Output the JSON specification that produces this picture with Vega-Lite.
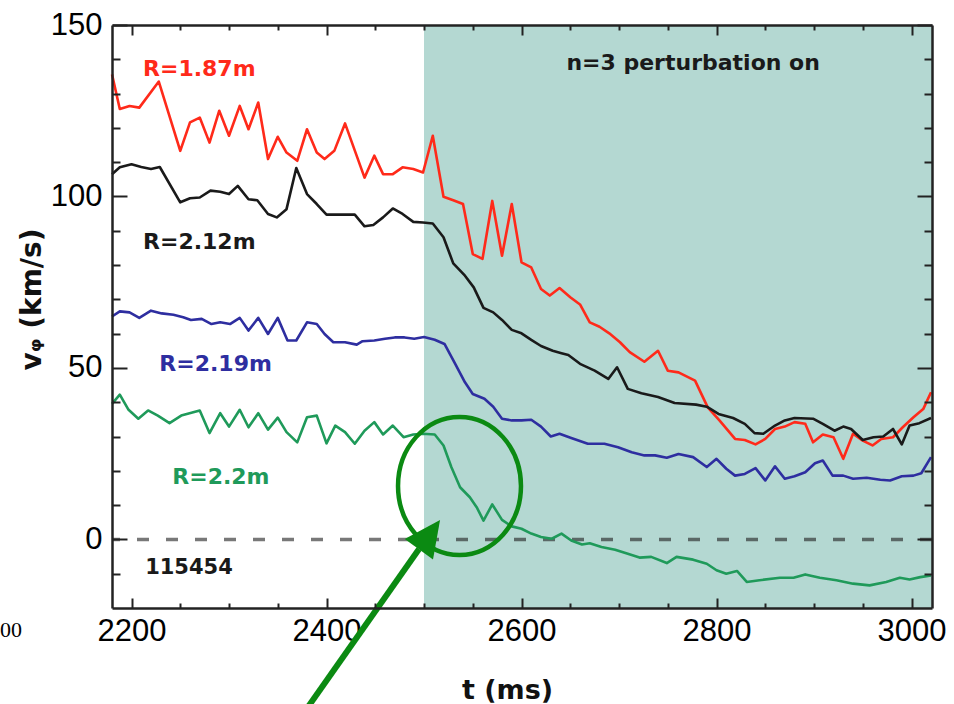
{
 "$schema": "https://vega.github.io/schema/vega-lite/v6.json",
 "width": 820,
 "height": 583,
 "autosize": {"type": "none"},
 "padding": {"left": 112, "top": 25, "right": 22, "bottom": 96},
 "background": "white",
 "config": {"view": {"stroke": null}},
 "datasets": {
  "shade": [{"t0": 2500, "t1": 3021, "v0": -20, "v1": 150}],
  "series": [
   {"t":2180,"v":135.6,"R":"1.87"},{"t":2188,"v":125.5,"R":"1.87"},{"t":2198,"v":126.4,"R":"1.87"},{"t":2208,"v":125.9,"R":"1.87"},{"t":2228,"v":133.5,"R":"1.87"},{"t":2250,"v":113.3,"R":"1.87"},{"t":2260,"v":121.6,"R":"1.87"},{"t":2270,"v":123.0,"R":"1.87"},{"t":2280,"v":115.7,"R":"1.87"},{"t":2290,"v":125.0,"R":"1.87"},{"t":2300,"v":117.7,"R":"1.87"},{"t":2311,"v":126.4,"R":"1.87"},{"t":2320,"v":119.6,"R":"1.87"},{"t":2330,"v":127.4,"R":"1.87"},{"t":2340,"v":110.9,"R":"1.87"},{"t":2350,"v":117.4,"R":"1.87"},{"t":2359,"v":112.8,"R":"1.87"},{"t":2370,"v":110.4,"R":"1.87"},{"t":2380,"v":119.6,"R":"1.87"},{"t":2390,"v":112.8,"R":"1.87"},{"t":2398,"v":110.9,"R":"1.87"},{"t":2408,"v":113.3,"R":"1.87"},{"t":2419,"v":121.3,"R":"1.87"},{"t":2439,"v":105.5,"R":"1.87"},{"t":2449,"v":111.9,"R":"1.87"},{"t":2458,"v":106.5,"R":"1.87"},{"t":2468,"v":106.5,"R":"1.87"},{"t":2478,"v":108.5,"R":"1.87"},{"t":2489,"v":108.0,"R":"1.87"},{"t":2499,"v":107.0,"R":"1.87"},{"t":2509,"v":117.7,"R":"1.87"},{"t":2520,"v":99.9,"R":"1.87"},{"t":2530,"v":98.9,"R":"1.87"},{"t":2540,"v":97.8,"R":"1.87"},{"t":2550,"v":83.2,"R":"1.87"},{"t":2560,"v":81.8,"R":"1.87"},{"t":2570,"v":98.7,"R":"1.87"},{"t":2580,"v":82.7,"R":"1.87"},{"t":2590,"v":97.8,"R":"1.87"},{"t":2600,"v":80.8,"R":"1.87"},{"t":2610,"v":79.3,"R":"1.87"},{"t":2620,"v":73.0,"R":"1.87"},{"t":2629,"v":71.1,"R":"1.87"},{"t":2639,"v":73.3,"R":"1.87"},{"t":2650,"v":70.6,"R":"1.87"},{"t":2660,"v":68.5,"R":"1.87"},{"t":2670,"v":63.3,"R":"1.87"},{"t":2680,"v":62.0,"R":"1.87"},{"t":2690,"v":60.1,"R":"1.87"},{"t":2701,"v":57.5,"R":"1.87"},{"t":2711,"v":54.6,"R":"1.87"},{"t":2726,"v":51.8,"R":"1.87"},{"t":2740,"v":55.0,"R":"1.87"},{"t":2750,"v":49.2,"R":"1.87"},{"t":2761,"v":48.7,"R":"1.87"},{"t":2778,"v":46.3,"R":"1.87"},{"t":2791,"v":38.5,"R":"1.87"},{"t":2803,"v":34.7,"R":"1.87"},{"t":2819,"v":29.3,"R":"1.87"},{"t":2829,"v":29.0,"R":"1.87"},{"t":2840,"v":27.7,"R":"1.87"},{"t":2850,"v":29.3,"R":"1.87"},{"t":2860,"v":32.2,"R":"1.87"},{"t":2870,"v":32.9,"R":"1.87"},{"t":2880,"v":34.2,"R":"1.87"},{"t":2891,"v":33.7,"R":"1.87"},{"t":2899,"v":28.3,"R":"1.87"},{"t":2909,"v":30.6,"R":"1.87"},{"t":2920,"v":29.8,"R":"1.87"},{"t":2930,"v":23.5,"R":"1.87"},{"t":2940,"v":30.8,"R":"1.87"},{"t":2950,"v":28.8,"R":"1.87"},{"t":2960,"v":27.4,"R":"1.87"},{"t":2969,"v":29.3,"R":"1.87"},{"t":2981,"v":29.8,"R":"1.87"},{"t":2991,"v":32.7,"R":"1.87"},{"t":3002,"v":35.6,"R":"1.87"},{"t":3012,"v":38.0,"R":"1.87"},{"t":3020,"v":42.9,"R":"1.87"},
   {"t":2180,"v":106.5,"R":"2.12"},{"t":2188,"v":108.5,"R":"2.12"},{"t":2200,"v":109.4,"R":"2.12"},{"t":2210,"v":108.6,"R":"2.12"},{"t":2220,"v":108.0,"R":"2.12"},{"t":2229,"v":108.6,"R":"2.12"},{"t":2250,"v":98.3,"R":"2.12"},{"t":2260,"v":99.5,"R":"2.12"},{"t":2270,"v":99.7,"R":"2.12"},{"t":2281,"v":101.7,"R":"2.12"},{"t":2291,"v":101.4,"R":"2.12"},{"t":2300,"v":100.7,"R":"2.12"},{"t":2309,"v":103.1,"R":"2.12"},{"t":2320,"v":99.2,"R":"2.12"},{"t":2329,"v":98.9,"R":"2.12"},{"t":2340,"v":94.9,"R":"2.12"},{"t":2349,"v":93.9,"R":"2.12"},{"t":2359,"v":96.3,"R":"2.12"},{"t":2369,"v":108.3,"R":"2.12"},{"t":2380,"v":100.7,"R":"2.12"},{"t":2390,"v":97.8,"R":"2.12"},{"t":2400,"v":94.7,"R":"2.12"},{"t":2412,"v":94.7,"R":"2.12"},{"t":2429,"v":94.7,"R":"2.12"},{"t":2439,"v":91.3,"R":"2.12"},{"t":2448,"v":91.7,"R":"2.12"},{"t":2458,"v":93.9,"R":"2.12"},{"t":2468,"v":96.5,"R":"2.12"},{"t":2478,"v":94.9,"R":"2.12"},{"t":2489,"v":92.6,"R":"2.12"},{"t":2499,"v":92.4,"R":"2.12"},{"t":2509,"v":92.1,"R":"2.12"},{"t":2520,"v":88.1,"R":"2.12"},{"t":2530,"v":80.5,"R":"2.12"},{"t":2542,"v":76.9,"R":"2.12"},{"t":2551,"v":73.5,"R":"2.12"},{"t":2561,"v":67.5,"R":"2.12"},{"t":2571,"v":66.2,"R":"2.12"},{"t":2580,"v":64.0,"R":"2.12"},{"t":2590,"v":61.1,"R":"2.12"},{"t":2600,"v":60.1,"R":"2.12"},{"t":2610,"v":58.2,"R":"2.12"},{"t":2620,"v":56.4,"R":"2.12"},{"t":2632,"v":55.0,"R":"2.12"},{"t":2641,"v":54.3,"R":"2.12"},{"t":2648,"v":53.8,"R":"2.12"},{"t":2660,"v":51.2,"R":"2.12"},{"t":2675,"v":49.2,"R":"2.12"},{"t":2689,"v":46.8,"R":"2.12"},{"t":2698,"v":50.2,"R":"2.12"},{"t":2709,"v":43.9,"R":"2.12"},{"t":2723,"v":42.6,"R":"2.12"},{"t":2740,"v":41.5,"R":"2.12"},{"t":2757,"v":39.8,"R":"2.12"},{"t":2779,"v":39.3,"R":"2.12"},{"t":2790,"v":38.7,"R":"2.12"},{"t":2802,"v":36.6,"R":"2.12"},{"t":2817,"v":35.4,"R":"2.12"},{"t":2829,"v":33.7,"R":"2.12"},{"t":2839,"v":31.0,"R":"2.12"},{"t":2848,"v":30.8,"R":"2.12"},{"t":2860,"v":33.2,"R":"2.12"},{"t":2870,"v":34.7,"R":"2.12"},{"t":2880,"v":35.4,"R":"2.12"},{"t":2899,"v":35.2,"R":"2.12"},{"t":2909,"v":33.7,"R":"2.12"},{"t":2921,"v":31.7,"R":"2.12"},{"t":2930,"v":32.9,"R":"2.12"},{"t":2938,"v":32.2,"R":"2.12"},{"t":2950,"v":29.0,"R":"2.12"},{"t":2961,"v":29.8,"R":"2.12"},{"t":2971,"v":30.0,"R":"2.12"},{"t":2981,"v":32.2,"R":"2.12"},{"t":2990,"v":27.7,"R":"2.12"},{"t":2998,"v":33.2,"R":"2.12"},{"t":3008,"v":33.9,"R":"2.12"},{"t":3020,"v":35.4,"R":"2.12"},
   {"t":2180,"v":65.0,"R":"2.19"},{"t":2188,"v":66.5,"R":"2.19"},{"t":2198,"v":66.2,"R":"2.19"},{"t":2208,"v":64.6,"R":"2.19"},{"t":2220,"v":66.7,"R":"2.19"},{"t":2231,"v":65.9,"R":"2.19"},{"t":2243,"v":65.5,"R":"2.19"},{"t":2253,"v":64.8,"R":"2.19"},{"t":2261,"v":64.0,"R":"2.19"},{"t":2272,"v":64.3,"R":"2.19"},{"t":2282,"v":62.8,"R":"2.19"},{"t":2291,"v":63.3,"R":"2.19"},{"t":2301,"v":62.8,"R":"2.19"},{"t":2311,"v":64.6,"R":"2.19"},{"t":2320,"v":60.9,"R":"2.19"},{"t":2330,"v":64.6,"R":"2.19"},{"t":2340,"v":59.9,"R":"2.19"},{"t":2350,"v":64.6,"R":"2.19"},{"t":2360,"v":58.0,"R":"2.19"},{"t":2369,"v":58.0,"R":"2.19"},{"t":2380,"v":63.3,"R":"2.19"},{"t":2390,"v":62.8,"R":"2.19"},{"t":2398,"v":59.9,"R":"2.19"},{"t":2407,"v":57.5,"R":"2.19"},{"t":2419,"v":57.5,"R":"2.19"},{"t":2431,"v":56.8,"R":"2.19"},{"t":2437,"v":57.8,"R":"2.19"},{"t":2449,"v":58.0,"R":"2.19"},{"t":2460,"v":58.5,"R":"2.19"},{"t":2470,"v":58.9,"R":"2.19"},{"t":2480,"v":58.9,"R":"2.19"},{"t":2490,"v":58.5,"R":"2.19"},{"t":2500,"v":59.0,"R":"2.19"},{"t":2511,"v":58.2,"R":"2.19"},{"t":2521,"v":57.0,"R":"2.19"},{"t":2532,"v":51.2,"R":"2.19"},{"t":2542,"v":45.8,"R":"2.19"},{"t":2550,"v":42.4,"R":"2.19"},{"t":2562,"v":41.0,"R":"2.19"},{"t":2571,"v":38.7,"R":"2.19"},{"t":2580,"v":35.2,"R":"2.19"},{"t":2590,"v":34.7,"R":"2.19"},{"t":2600,"v":34.7,"R":"2.19"},{"t":2610,"v":34.9,"R":"2.19"},{"t":2620,"v":32.9,"R":"2.19"},{"t":2630,"v":30.0,"R":"2.19"},{"t":2639,"v":30.8,"R":"2.19"},{"t":2651,"v":29.6,"R":"2.19"},{"t":2668,"v":27.9,"R":"2.19"},{"t":2685,"v":27.9,"R":"2.19"},{"t":2699,"v":26.9,"R":"2.19"},{"t":2713,"v":25.4,"R":"2.19"},{"t":2726,"v":24.5,"R":"2.19"},{"t":2737,"v":24.5,"R":"2.19"},{"t":2749,"v":23.8,"R":"2.19"},{"t":2761,"v":24.9,"R":"2.19"},{"t":2776,"v":24.0,"R":"2.19"},{"t":2790,"v":21.1,"R":"2.19"},{"t":2800,"v":23.5,"R":"2.19"},{"t":2810,"v":20.6,"R":"2.19"},{"t":2819,"v":18.6,"R":"2.19"},{"t":2829,"v":19.1,"R":"2.19"},{"t":2840,"v":20.8,"R":"2.19"},{"t":2850,"v":17.2,"R":"2.19"},{"t":2860,"v":21.3,"R":"2.19"},{"t":2870,"v":17.7,"R":"2.19"},{"t":2880,"v":18.4,"R":"2.19"},{"t":2891,"v":19.6,"R":"2.19"},{"t":2901,"v":22.2,"R":"2.19"},{"t":2909,"v":23.0,"R":"2.19"},{"t":2919,"v":18.6,"R":"2.19"},{"t":2930,"v":18.6,"R":"2.19"},{"t":2940,"v":17.7,"R":"2.19"},{"t":2954,"v":18.0,"R":"2.19"},{"t":2968,"v":17.4,"R":"2.19"},{"t":2978,"v":17.2,"R":"2.19"},{"t":2990,"v":18.4,"R":"2.19"},{"t":3002,"v":18.6,"R":"2.19"},{"t":3010,"v":19.3,"R":"2.19"},{"t":3020,"v":24.0,"R":"2.19"},
   {"t":2180,"v":39.5,"R":"2.2"},{"t":2188,"v":42.2,"R":"2.2"},{"t":2197,"v":37.8,"R":"2.2"},{"t":2207,"v":35.2,"R":"2.2"},{"t":2217,"v":37.6,"R":"2.2"},{"t":2227,"v":36.1,"R":"2.2"},{"t":2239,"v":33.9,"R":"2.2"},{"t":2251,"v":36.1,"R":"2.2"},{"t":2270,"v":37.6,"R":"2.2"},{"t":2280,"v":31.0,"R":"2.2"},{"t":2291,"v":36.8,"R":"2.2"},{"t":2300,"v":32.9,"R":"2.2"},{"t":2311,"v":37.8,"R":"2.2"},{"t":2320,"v":32.7,"R":"2.2"},{"t":2330,"v":36.8,"R":"2.2"},{"t":2340,"v":32.0,"R":"2.2"},{"t":2350,"v":35.5,"R":"2.2"},{"t":2359,"v":31.3,"R":"2.2"},{"t":2370,"v":28.3,"R":"2.2"},{"t":2380,"v":35.6,"R":"2.2"},{"t":2390,"v":36.1,"R":"2.2"},{"t":2400,"v":28.0,"R":"2.2"},{"t":2409,"v":33.2,"R":"2.2"},{"t":2419,"v":31.3,"R":"2.2"},{"t":2429,"v":27.9,"R":"2.2"},{"t":2439,"v":31.7,"R":"2.2"},{"t":2449,"v":34.2,"R":"2.2"},{"t":2458,"v":30.6,"R":"2.2"},{"t":2468,"v":33.2,"R":"2.2"},{"t":2479,"v":29.8,"R":"2.2"},{"t":2489,"v":30.6,"R":"2.2"},{"t":2499,"v":30.8,"R":"2.2"},{"t":2511,"v":30.6,"R":"2.2"},{"t":2520,"v":27.4,"R":"2.2"},{"t":2528,"v":21.1,"R":"2.2"},{"t":2537,"v":15.2,"R":"2.2"},{"t":2547,"v":12.3,"R":"2.2"},{"t":2554,"v":9.4,"R":"2.2"},{"t":2561,"v":5.5,"R":"2.2"},{"t":2570,"v":10.2,"R":"2.2"},{"t":2580,"v":5.7,"R":"2.2"},{"t":2590,"v":3.8,"R":"2.2"},{"t":2600,"v":3.1,"R":"2.2"},{"t":2610,"v":1.7,"R":"2.2"},{"t":2620,"v":0.7,"R":"2.2"},{"t":2631,"v":0.2,"R":"2.2"},{"t":2641,"v":1.7,"R":"2.2"},{"t":2651,"v":-0.3,"R":"2.2"},{"t":2662,"v":-1.5,"R":"2.2"},{"t":2670,"v":-1.1,"R":"2.2"},{"t":2682,"v":-2.2,"R":"2.2"},{"t":2696,"v":-3.0,"R":"2.2"},{"t":2709,"v":-4.2,"R":"2.2"},{"t":2721,"v":-5.3,"R":"2.2"},{"t":2733,"v":-5.1,"R":"2.2"},{"t":2749,"v":-6.9,"R":"2.2"},{"t":2759,"v":-5.1,"R":"2.2"},{"t":2776,"v":-5.9,"R":"2.2"},{"t":2790,"v":-7.1,"R":"2.2"},{"t":2800,"v":-9.0,"R":"2.2"},{"t":2810,"v":-10.0,"R":"2.2"},{"t":2821,"v":-9.2,"R":"2.2"},{"t":2831,"v":-12.4,"R":"2.2"},{"t":2844,"v":-11.9,"R":"2.2"},{"t":2865,"v":-11.2,"R":"2.2"},{"t":2879,"v":-11.2,"R":"2.2"},{"t":2891,"v":-10.2,"R":"2.2"},{"t":2906,"v":-11.2,"R":"2.2"},{"t":2923,"v":-11.9,"R":"2.2"},{"t":2940,"v":-12.9,"R":"2.2"},{"t":2957,"v":-13.4,"R":"2.2"},{"t":2974,"v":-12.4,"R":"2.2"},{"t":2988,"v":-11.2,"R":"2.2"},{"t":2998,"v":-11.7,"R":"2.2"},{"t":3009,"v":-11.0,"R":"2.2"},{"t":3020,"v":-10.5,"R":"2.2"}
  ],
  "labels": [
   {"t": 2211.8, "v": 137.2, "label": "R=1.87m", "R": "1.87"},
   {"t": 2211.8, "v": 86.8, "label": "R=2.12m", "R": "2.12"},
   {"t": 2228.5, "v": 51.2, "label": "R=2.19m", "R": "2.19"},
   {"t": 2241.8, "v": 18.2, "label": "R=2.2m", "R": "2.2"}
  ],
  "shot": [{"t": 2214, "v": -8.3, "label": "115454"}],
  "phase": [{"t": 2776, "v": 138.9, "label": "n=3 perturbation on"}],
  "stray": [{"t": 2065.1, "v": -26.4, "label": "00"}],
  "ellipse": [{"t": 2536.4, "v": 15.6}],
  "shaft": [{"t": 2371.5, "v": -52.7, "t2": 2494.9, "v2": -2.8}],
  "head": [{"t": 2505.6, "v": 1.4}]
 },
 "resolve": {"axis": {"x": "independent", "y": "independent"}},
 "layer": [
  {
   "data": {"name": "shade"},
   "mark": {"type": "rect", "color": "#b4d8d2"},
   "encoding": {
    "x": {"field": "t0", "type": "quantitative",
     "scale": {"domain": [2180, 3021], "nice": false, "zero": false},
     "axis": {"orient": "bottom", "values": [2200, 2400, 2600, 2800, 3000], "format": "d",
      "ticks": false, "domain": false, "grid": false, "labelFlush": false,
      "labelFont": "Liberation Sans", "labelFontSize": 31, "labelColor": "#000", "labelPadding": 8,
      "title": "t (ms)", "titleFont": "DejaVu Sans", "titleFontWeight": "bold", "titleFontSize": 27,
      "titleColor": "#111", "titleX": 395, "titleY": 90, "titleBaseline": "alphabetic", "titleAlign": "center", "zindex": 0}},
    "x2": {"field": "t1"},
    "y": {"field": "v0", "type": "quantitative",
     "scale": {"domain": [-20, 150], "nice": false, "zero": false},
     "axis": {"orient": "left", "values": [0, 50, 100, 150], "format": "d",
      "ticks": false, "domain": false, "grid": false, "labelFlush": false,
      "labelFont": "Liberation Sans", "labelFontSize": 31, "labelColor": "#000", "labelPadding": 10,
      "title": "vᵩ (km/s)", "titleFont": "DejaVu Sans", "titleFontWeight": "bold", "titleFontSize": 28,
      "titleColor": "#111", "titleX": -80, "titleY": 274, "titleAngle": -90, "titleBaseline": "middle", "titleAlign": "center", "zindex": 0}},
    "y2": {"field": "v1"}
   }
  },
  {
   "data": {"values": [{}]},
   "mark": {"type": "rule", "color": "#1e1e1e", "opacity": 0.6, "strokeWidth": 3.5, "strokeDash": [12, 17]},
   "encoding": {"y": {"datum": 0, "type": "quantitative", "axis": null}}
  },
  {
   "data": {"name": "series"},
   "mark": {"type": "line", "strokeWidth": 2.6, "strokeJoin": "round"},
   "encoding": {
    "x": {"field": "t", "type": "quantitative",
     "axis": {"orient": "bottom", "values": [2200,2250,2300,2350,2400,2450,2500,2550,2600,2650,2700,2750,2800,2850,2900,2950,3000],
      "labels": false, "grid": false, "title": null, "domainColor": "#222", "domainWidth": 2.5, "tickColor": "#222", "tickWidth": 2,
      "tickSize": {"condition": {"test": "datum.value % 200 === 0", "value": -10}, "value": -5}, "zindex": 1}},
    "y": {"field": "v", "type": "quantitative",
     "axis": {"orient": "left", "values": [-10,0,10,20,30,40,50,60,70,80,90,100,110,120,130,140,150],
      "labels": false, "grid": false, "title": null, "domainColor": "#222", "domainWidth": 2.5, "tickColor": "#222", "tickWidth": 2,
      "tickSize": {"condition": {"test": "datum.value % 50 === 0", "value": -15}, "value": -8}, "zindex": 1}},
    "color": {"field": "R", "type": "nominal",
     "scale": {"domain": ["1.87", "2.12", "2.19", "2.2"], "range": ["#ff2a1a", "#1a1a1a", "#2e2ea0", "#1f9a5a"]},
     "legend": null}
   }
  },
  {
   "data": {"name": "labels"},
   "mark": {"type": "text", "font": "DejaVu Sans", "fontWeight": "bold", "fontSize": 22, "align": "left", "baseline": "middle"},
   "encoding": {
    "x": {"field": "t", "type": "quantitative",
     "axis": {"orient": "top", "values": [2200,2250,2300,2350,2400,2450,2500,2550,2600,2650,2700,2750,2800,2850,2900,2950,3000],
      "labels": false, "grid": false, "title": null, "domainColor": "#222", "domainWidth": 2.5, "tickColor": "#222", "tickWidth": 2,
      "tickSize": {"condition": {"test": "datum.value % 200 === 0", "value": -10}, "value": -5}, "zindex": 1}},
    "y": {"field": "v", "type": "quantitative",
     "axis": {"orient": "right", "values": [-10,0,10,20,30,40,50,60,70,80,90,100,110,120,130,140,150],
      "labels": false, "grid": false, "title": null, "domainColor": "#222", "domainWidth": 2.5, "tickColor": "#222", "tickWidth": 2,
      "tickSize": {"condition": {"test": "datum.value % 50 === 0", "value": -15}, "value": -8}, "zindex": 1}},
    "text": {"field": "label"},
    "color": {"field": "R", "type": "nominal", "legend": null}
   }
  },
  {
   "data": {"name": "shot"},
   "mark": {"type": "text", "font": "DejaVu Sans", "fontWeight": "bold", "fontSize": 21, "align": "left", "baseline": "middle", "color": "#1a1a1a"},
   "encoding": {
    "x": {"field": "t", "type": "quantitative", "axis": null},
    "y": {"field": "v", "type": "quantitative", "axis": null},
    "text": {"field": "label"}
   }
  },
  {
   "data": {"name": "phase"},
   "mark": {"type": "text", "font": "DejaVu Sans", "fontWeight": "bold", "fontSize": 22, "align": "center", "baseline": "middle", "color": "#1a1a1a"},
   "encoding": {
    "x": {"field": "t", "type": "quantitative", "axis": null},
    "y": {"field": "v", "type": "quantitative", "axis": null},
    "text": {"field": "label"}
   }
  },
  {
   "data": {"name": "stray"},
   "mark": {"type": "text", "font": "Liberation Serif", "fontSize": 22, "align": "left", "baseline": "middle", "color": "#000"},
   "encoding": {
    "x": {"field": "t", "type": "quantitative", "axis": null},
    "y": {"field": "v", "type": "quantitative", "axis": null},
    "text": {"field": "label"}
   }
  },
  {
   "data": {"name": "ellipse"},
   "mark": {"type": "point", "shape": "M -0.891 0 A 0.891 1 0 1 0 0.891 0 A 0.891 1 0 1 0 -0.891 0 Z", "size": 19044, "filled": false, "color": "#0b8a12", "strokeWidth": 4.5, "opacity": 1},
   "encoding": {
    "x": {"field": "t", "type": "quantitative", "axis": null},
    "y": {"field": "v", "type": "quantitative", "axis": null}
   }
  },
  {
   "data": {"name": "shaft"},
   "mark": {"type": "rule", "color": "#0b8a12", "strokeWidth": 6, "strokeCap": "butt"},
   "encoding": {
    "x": {"field": "t", "type": "quantitative", "axis": null},
    "y": {"field": "v", "type": "quantitative", "axis": null},
    "x2": {"field": "t2"},
    "y2": {"field": "v2"}
   }
  },
  {
   "data": {"name": "head"},
   "mark": {"type": "point", "shape": "M 0 -1 L 0.97 1 L -0.97 1 Z", "size": 1296, "filled": true, "color": "#0b8a12", "opacity": 1, "angle": 36, "strokeWidth": 0},
   "encoding": {
    "x": {"field": "t", "type": "quantitative", "axis": null},
    "y": {"field": "v", "type": "quantitative", "axis": null}
   }
  }
 ]
}
